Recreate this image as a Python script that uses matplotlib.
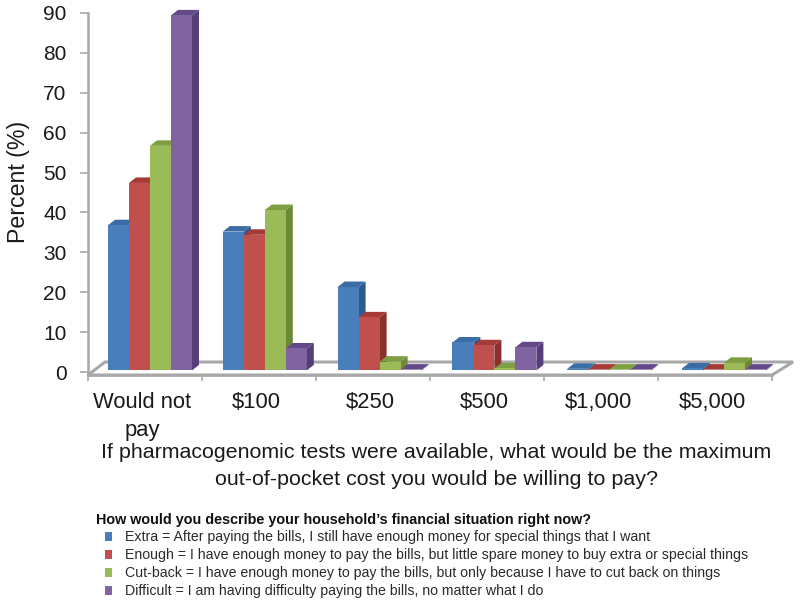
import matplotlib
matplotlib.use("Agg")
import matplotlib.pyplot as plt
from matplotlib.patches import Polygon

plt.rcParams['font.family'] = ['Liberation Sans', 'DejaVu Sans']

categories = ["Would not\npay", "$100", "$250", "$500", "$1,000", "$5,000"]
extra = [36.4, 34.8, 20.9, 7.0, 0.4, 0.5]
enough = [47.0, 34.0, 13.3, 6.3, 0.2, 0.2]
cutback = [56.3, 40.2, 2.2, 0.5, 0.2, 1.9]
difficult = [89.0, 5.5, 0.2, 5.8, 0.2, 0.2]
series_labels = [
    "Extra = After paying the bills, I still have enough money for special things that I want",
    "Enough = I have enough money to pay the bills, but little spare money to buy extra or special things",
    "Cut-back = I have enough money to pay the bills, but only because I have to cut back on things",
    "Difficult = I am having difficulty paying the bills, no matter what I do",
]
legend_title = "How would you describe your household\u2019s financial situation right now?"
xlabel = ("If pharmacogenomic tests were available, what would be the maximum\n"
          "out-of-pocket cost you would be willing to pay?")

front = ["#4A7EBB", "#C0504D", "#9BBB59", "#8064A2"]
side = ["#2D5A8E", "#8A2F2C", "#6C8A35", "#553D78"]
top = ["#3A6CA6", "#A53A37", "#7F9E42", "#64498A"]
grey = "#A8A8A8"
ink = "#1A1A1A"

W, H = 800, 602
fig = plt.figure(figsize=(W / 100, H / 100), dpi=100, facecolor="white")
ax = fig.add_axes([88 / W, 1 - 375 / H, 684 / W, 362 / H])
ax.set_xlim(0, 6)
ax.set_ylim(-0.75, 90)

# pixel-to-data factors for the fake 3D depth
ux, uy = 6 / 684, 90.75 / 362
dx, dy = 7 * ux, 5.5 * uy
bar_w = 21 * ux
base = 0.4
step = 114.8 / 114
start = 20 * ux

# floor
ax.add_patch(Polygon([(0, -0.75), (6, -0.75), (6 + 21 * ux, 13 * uy - 0.75),
                      (17 * ux, 13 * uy - 0.75)], closed=True, facecolor="white",
                     edgecolor=grey, lw=2.2, zorder=1, clip_on=False))

all_series = [extra, enough, cutback, difficult]
handles = []
for s, vals in enumerate(all_series):
    xs = [start + i * step + s * bar_w for i in range(len(vals))]
    z = 3 + s
    for x, v in zip(xs, vals):
        ax.add_patch(Polygon([(x + bar_w, base), (x + bar_w + dx, base + dy),
                              (x + bar_w + dx, base + v + dy), (x + bar_w, base + v)],
                             closed=True, fc=side[s], ec="none", zorder=z, clip_on=False))
        ax.add_patch(Polygon([(x, base + v), (x + bar_w, base + v),
                              (x + bar_w + dx, base + v + dy), (x + dx, base + v + dy)],
                             closed=True, fc=top[s], ec="none", zorder=z, clip_on=False))
    bars = ax.bar(xs, vals, width=bar_w, bottom=base, align="edge", color=front[s],
                  zorder=z, label=series_labels[s], clip_on=False)
    handles.append(bars)

for sp in ("top", "right"):
    ax.spines[sp].set_visible(False)
for sp in ("left", "bottom"):
    ax.spines[sp].set_color(grey)
    ax.spines[sp].set_linewidth(1.8)
    ax.spines[sp].set_zorder(2)

ax.set_yticks(range(0, 100, 10))
ax.tick_params(axis="y", length=6, width=1.2, color=grey, labelsize=15, pad=9.5, labelcolor=ink)
ax.set_xticks(range(0, 7))
ax.set_xticklabels([""] * 7)
ax.tick_params(axis="x", which="major", length=4.5, width=1.2, color=grey)
ax.set_xticks([i + 0.5 - 3 * ux for i in range(6)], minor=True)
ax.set_xticklabels(categories, minor=True, fontsize=15.8, color=ink, linespacing=1.44)
ax.tick_params(axis="x", which="minor", length=0, pad=12)

fig.text(19 / W, 1 - 182 / H, "Percent (%)", rotation=90, fontsize=16.7, color=ink,
         ha="center", va="center")
fig.text(436 / W, 1 - 466 / H, xlabel, fontsize=15.4, color=ink, ha="center",
         va="center", linespacing=1.5, multialignment="center")

fig.text(96 / W, 1 - 520 / H, legend_title, fontsize=10.4, weight="bold", color="#111111",
         ha="left", va="center")
fig.legend(handles=handles, labels=series_labels,
           loc="upper left", bbox_to_anchor=(104.5 / W, 1 - 530.5 / H), frameon=False,
           fontsize=10.2, handlelength=0.55, handleheight=0.55,
           handletextpad=0.9, labelspacing=0.28, borderpad=0, borderaxespad=0,
           labelcolor="#2A2A2A")

fig.savefig("out.png", dpi=100)
